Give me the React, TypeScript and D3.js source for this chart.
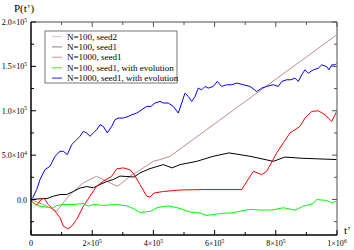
import React from 'react';
import * as d3 from 'd3';

// t' and P(t') values in thousands
const seed2T = [0, 16.3, 45.8, 84, 127.5, 171, 214.7, 247.4, 281, 290.8, 323.5, 356.2, 399.7, 421.6, 454.3, 999];
const seed2P = [0, -2.2, -6.7, -13.2, 5.6, 18.8, 26.2, 20.6, 15, 16.9, 26.2, 33.2, 43, 45, 48.7, 185.5];

const seed1T = [0, 29.4, 52.3, 72.9, 94.8, 116.7, 138.2, 160, 182, 203.6, 225.5, 247.4, 269, 290.8, 313.7, 336.6, 356.2, 388.9, 432.4, 460.8, 487, 541.5, 595.7, 647, 715.7, 791.8, 830, 879, 944.4, 999];
const seed1P = [0, 0.8, 1.1, 3.7, 5.6, 5.6, 9, 12.9, 14.6, 13.2, 16.9, 20.2, 22.5, 26.4, 25.9, 25.3, 30, 34.8, 39.3, 35.6, 39.3, 43, 48.7, 52.5, 48.7, 43, 47.8, 46.6, 45.7, 45];

const n1000T = [0, 7.5, 19.6, 32.7, 42.5, 56.5, 78.4, 94.8, 105.6, 119.3, 130.7, 149.3, 171, 192.8, 214.7, 236.3, 263.7, 280, 301.6, 323.5, 335, 356.2, 378, 389, 402, 432.4, 487, 563, 688.6, 726.5, 754, 770.3, 803, 846.4, 879, 895.4, 917.3, 938.9, 960.8, 982.7, 999];
const n1000P = [0, -3.7, -6.2, 0, 1.7, -5.6, -13.2, -20.6, -30, -32.9, -30.9, -22.5, -7.5, 3.7, 15, 20.6, 26.2, 34.5, 35.6, 33.4, 29.2, 16.9, 3.7, 2.8, 7.3, 9, 10.7, 11.2, 11.2, 31.8, 28.1, 31.8, 52.5, 75, 82.4, 91.8, 99.2, 100, 95.5, 88, 99.2];

const evo100T = [0, 13, 29.4, 52.3, 72.9, 85, 105.6, 138.2, 171, 187.3, 203.6, 236.3, 280, 317, 340, 356.2, 389, 411.8, 438, 454.3, 487, 519.6, 552.3, 575, 595.7, 624, 660, 699.3, 722, 755, 787.6, 824.5, 862.7, 889.9, 922.5, 933.7, 966.3, 982.7, 999];
const evo100P = [0, -5.6, -7.5, -8.7, -9.3, -6.7, -5.6, -5.6, -4.5, -7.5, -5.6, -6.7, -5.6, -7.5, -11.2, -14.6, -13.5, -9.3, -7.5, -7.5, -10.1, -14, -15.2, -18, -16.9, -15.7, -15, -12, -11.2, -12, -11.8, -9.3, -12, -7.5, -4.5, 0, -1.1, -3.4, -2.2];

const evo1000T = [0, 5.6, 18.6, 29.4, 45.8, 62, 78.4, 94.8, 105.6, 118.6, 133, 149.3, 160, 171, 182, 192.8, 203.6, 214.7, 225.5, 236.3, 249.3, 263.7, 274.5, 285.3, 301.6, 318, 329, 345.4, 361.8, 378.1, 392, 405.2, 421.6, 432.4, 448.7, 465, 481.4, 492.5, 503.3, 514, 525.2, 536, 546.7, 557.9, 568.6, 579.4, 595.7, 608.8, 623.2, 639.5, 655.9, 672.2, 693.8, 715.7, 737.6, 754, 770.3, 791.8, 808.2, 819.3, 835.6, 849.7, 862.7, 873.5, 884.6, 895.4, 906.2, 922.5, 938.9, 950, 966.3, 973.9, 982.7, 993.5, 999];
const evo1000P = [0, 1.9, 11.2, 22.5, 33.7, 37.4, 48.7, 54.3, 54.3, 50.6, 61.8, 67.4, 71.2, 76.8, 75, 71.2, 75, 78.7, 84.3, 82.4, 75, 82.4, 89.9, 91.8, 91.8, 93.6, 95.5, 97.4, 101.2, 104.9, 104.9, 108.7, 110.5, 108.7, 108.7, 104.9, 97.4, 108.7, 119.9, 116.1, 110.5, 116.1, 125.5, 123.6, 127.4, 125.5, 127.4, 133, 127.4, 129.3, 129.3, 131.2, 129.3, 127.4, 121.7, 125.5, 127.4, 129.3, 127.4, 133, 134.9, 134.9, 136.8, 133, 140.5, 146.1, 142.4, 146.1, 148, 151.7, 149.8, 146.1, 151.7, 151.7, 153.6];

const seriesNames = [
  'N=100, seed2',
  'N=100, seed1',
  'N=1000, seed1',
  'N=100, seed1, with evolution',
  'N=1000, seed1, with evolution',
];
const seriesColors = ['#bc8f8f', '#000000', '#ff0000', '#00ff00', '#0000ff'];
const legendColors = ['#e6c8c8', '#999999', '#ff9a9a', '#44ff44', '#4444ff'];
const seriesT = [seed2T, seed1T, n1000T, evo100T, evo1000T];
const seriesP = [seed2P, seed1P, n1000P, evo100P, evo1000P];

const xTickVals = [0, 200000, 400000, 600000, 800000, 1000000];
const xTickMant = ['0', '2', '4', '6', '8', '1'];
const xTickExp = ['', '5', '5', '5', '5', '6'];
const yTickVals = [0, 50000, 100000, 150000, 200000];
const yTickMant = ['0.0', '5.0', '1.0', '1.5', '2.0'];
const yTickExp = ['', '4', '5', '5', '5'];

const W = 354, H = 250;
const L = 31, R = 337, T = 22, B = 235;

export default function App() {
  const x = d3.scaleLinear().domain([0, 1000000]).range([L, R]);
  const y = d3.scaleLinear().domain([-40000, 200000]).range([B, T]);
  const line = d3.line<[number, number]>().x(d => x(d[0])).y(d => y(d[1]));

  const xMinor = d3.range(100000, 1000000, 200000);
  const yMinor = [-25000, 25000, 75000, 125000, 175000];
  const font = 'Liberation Serif, Times New Roman, serif';

  return (
    <svg width={W} height={H} style={{ position: 'absolute', left: 0, top: 0, background: '#fff' }} fontFamily={font}>
      <rect x={0} y={0} width={W} height={H} fill="#fff" />
      <defs>
        <clipPath id="plotclip">
          <rect x={L} y={T} width={R - L} height={B - T} />
        </clipPath>
      </defs>
      <g clipPath="url(#plotclip)">
        {seriesT.map((ts, i) => (
          <path
            key={i}
            d={line(ts.map((t, j) => [t * 1000, seriesP[i][j] * 1000]) as [number, number][]) || ''}
            fill="none"
            stroke={seriesColors[i]}
            strokeWidth={1}
          />
        ))}
      </g>
      {/* frame */}
      <line x1={L} y1={T} x2={R} y2={T} stroke="#888" strokeWidth={1.5} />
      <line x1={R} y1={T} x2={R} y2={B} stroke="#888" strokeWidth={1.5} />
      <line x1={L} y1={T} x2={L} y2={B} stroke="#000" strokeWidth={1.5} />
      <line x1={L} y1={B} x2={R} y2={B} stroke="#000" strokeWidth={1.5} />
      {/* ticks */}
      {xTickVals.map((v, i) => (
        <g key={'xt' + i}>
          <line x1={x(v)} x2={x(v)} y1={B} y2={B - 5} stroke="#000" />
          <line x1={x(v)} x2={x(v)} y1={T} y2={T + 5} stroke="#555" />
        </g>
      ))}
      {xMinor.map((v, i) => (
        <g key={'xm' + i}>
          <line x1={x(v)} x2={x(v)} y1={B} y2={B - 3} stroke="#000" />
          <line x1={x(v)} x2={x(v)} y1={T} y2={T + 3} stroke="#555" />
        </g>
      ))}
      {yTickVals.map((v, i) => (
        <g key={'yt' + i}>
          <line x1={L} x2={L + 5} y1={y(v)} y2={y(v)} stroke="#000" />
          <line x1={R} x2={R - 5} y1={y(v)} y2={y(v)} stroke="#555" />
        </g>
      ))}
      {yMinor.map((v, i) => (
        <g key={'ym' + i}>
          <line x1={L} x2={L + 3} y1={y(v)} y2={y(v)} stroke="#000" />
          <line x1={R} x2={R - 3} y1={y(v)} y2={y(v)} stroke="#555" />
        </g>
      ))}
      {/* tick labels */}
      {xTickVals.map((v, i) => (
        <text key={'xl' + i} x={x(v)} y={246} textAnchor="middle" fontSize={8}>
          {xTickExp[i] ? (
            <>
              {xTickMant[i]}×10<tspan fontSize={5.5} dy={-3.5}>{xTickExp[i]}</tspan>
            </>
          ) : xTickMant[i]}
        </text>
      ))}
      {yTickVals.map((v, i) => (
        <text key={'yl' + i} x={27} y={y(v) + 3} textAnchor="end" fontSize={8}>
          {yTickExp[i] ? (
            <>
              {yTickMant[i]}×10<tspan fontSize={5.5} dy={-3.5}>{yTickExp[i]}</tspan>
            </>
          ) : yTickMant[i]}
        </text>
      ))}
      {/* axis titles */}
      <text x={14} y={12} fontSize={11}>P(t’)</text>
      <text x={344} y={234} fontSize={11}>t’</text>
      {/* legend */}
      <rect x={45} y={31} width={132} height={52} fill="#fff" stroke="#777" strokeWidth={1} />
      {seriesNames.map((name, i) => (
        <g key={'lg' + i}>
          <line x1={52} x2={62} y1={36.5 + i * 10.4} y2={36.5 + i * 10.4} stroke={legendColors[i]} strokeWidth={1.2} />
          <text x={67} y={39.5 + i * 10.4} fontSize={9}>{name}</text>
        </g>
      ))}
    </svg>
  );
}
